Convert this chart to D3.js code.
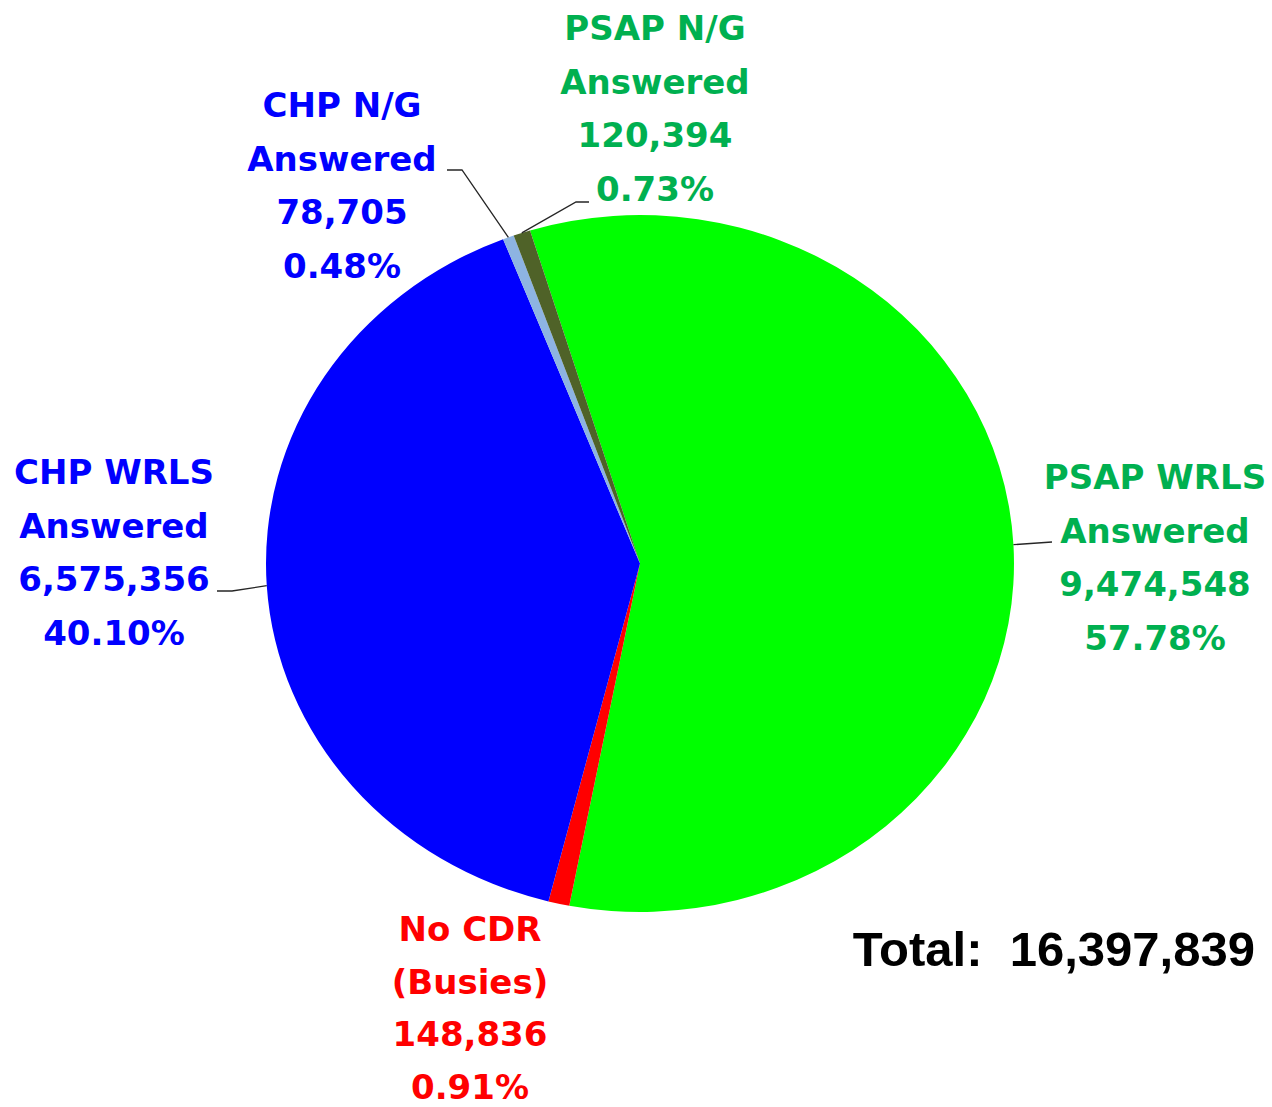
<!DOCTYPE html>
<html>
<head>
<meta charset="utf-8">
<script src="https://cdn.jsdelivr.net/npm/d3@7"></script>
<style>
  html, body { margin: 0; padding: 0; background: #ffffff; }
  svg { display: block; }
</style>
</head>
<body>
<svg id="chart" width="1272" height="1107"></svg>
<script>
// ---- data ----
const categories = ["PSAP WRLS Answered", "No CDR (Busies)", "CHP WRLS Answered", "CHP N/G Answered", "PSAP N/G Answered"];
const labelLine1 = ["PSAP WRLS", "No CDR", "CHP WRLS", "CHP N/G", "PSAP N/G"];
const labelLine2 = ["Answered", "(Busies)", "Answered", "Answered", "Answered"];
const values = [9474548, 148836, 6575356, 78705, 120394];
const percentLabels = ["57.78%", "0.91%", "40.10%", "0.48%", "0.73%"];
const totalLabel = "Total:  16,397,839";

// ---- styles ----
const sliceColors = ["#00ff00", "#ff0000", "#0000ff", "#8db4e2", "#4f6228"];
const textColors = ["#00b050", "#ff0000", "#0000ff", "#0000ff", "#00b050"];

const svg = d3.select("#chart");
const cx = 640, cy = 563.5, ry = 348.5, rx = 374;
const sx = rx / ry;
const startAngle = -17.1 * Math.PI / 180;

const pie = d3.pie().sort(null).value(d => d)
  .startAngle(startAngle).endAngle(startAngle + 2 * Math.PI);
const arcs = pie(values);
const arc = d3.arc().innerRadius(0).outerRadius(ry);

const g = svg.append("g").attr("transform", `translate(${cx},${cy}) scale(${sx},1)`);
g.selectAll("path").data(arcs).enter().append("path")
  .attr("d", arc)
  .attr("fill", (d, i) => sliceColors[i])
  .attr("stroke", "none");

function edgePoint(a) {
  return [cx + rx * Math.sin(a), cy - ry * Math.cos(a)];
}

const labelPos = [
  { x: 1155, y: 489, gap: 53.5, line: [[1052, 542]] },
  { x: 470, y: 941, gap: 52.5, line: null },
  { x: 114, y: 484, gap: 53.5, line: [[232, 591], [217, 591]] },
  { x: 342, y: 117, gap: 53.5, line: [[462, 170], [447, 170]] },
  { x: 655, y: 40, gap: 53.5, line: [[576, 202], [589, 202]] }
];

arcs.forEach((d, i) => {
  const p = labelPos[i];
  const mid = (d.startAngle + d.endAngle) / 2;
  if (p.line) {
    const e = edgePoint(mid);
    const pts = [e].concat(p.line);
    svg.append("path")
      .attr("d", d3.line()(pts))
      .attr("fill", "none")
      .attr("stroke", "#262626")
      .attr("stroke-width", 1.3);
  }
  const lines = [labelLine1[i], labelLine2[i], d3.format(",")(values[i]), percentLabels[i]];
  const t = svg.append("text")
    .attr("text-anchor", "middle")
    .attr("font-family", "'DejaVu Sans', Verdana, sans-serif")
    .attr("font-weight", "bold")
    .attr("font-size", 34)
    .attr("fill", textColors[i]);
  lines.forEach((s, k) => {
    t.append("tspan").attr("x", p.x).attr("y", p.y + k * p.gap).text(s);
  });
});

svg.append("text")
  .attr("x", 1255).attr("y", 966)
  .attr("text-anchor", "end")
  .attr("font-family", "'Liberation Sans', Arial, sans-serif")
  .attr("font-weight", "bold")
  .attr("font-size", 49)
  .attr("fill", "#000000")
  .attr("xml:space", "preserve")
  .style("white-space", "pre")
  .text(totalLabel);
</script>
</body>
</html>
